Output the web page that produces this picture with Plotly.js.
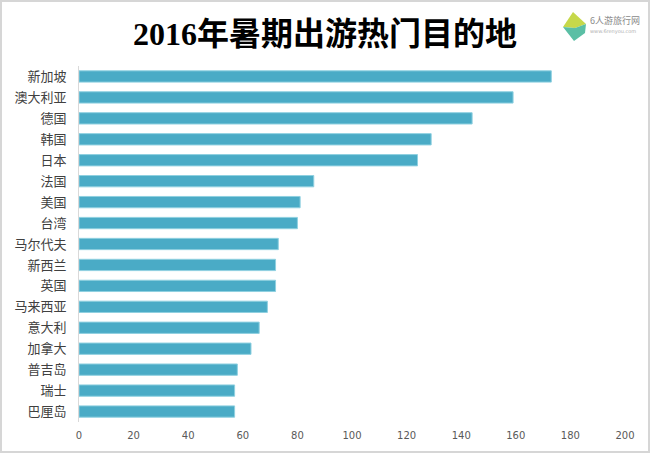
<!DOCTYPE html>
<html>
<head>
<meta charset="utf-8">
<script src="https://cdn.plot.ly/plotly-3.0.1.min.js"></script>
<style>
  html, body { margin: 0; padding: 0; background: #ffffff; }
  #chart { width: 650px; height: 453px; }
  #frame {
    position: absolute; left: 0; top: 0;
    width: 646px; height: 449px;
    border: 2px solid #d6d6d6;
    pointer-events: none;
  }
</style>
</head>
<body>
<div id="chart"></div>
<div id="frame"></div>
<script>
// Destinations, top to bottom as drawn
const destinations = ['新加坡', '澳大利亚', '德国', '韩国', '日本', '法国', '美国', '台湾',
    '马尔代夫', '新西兰', '英国', '马来西亚', '意大利', '加拿大', '普吉岛', '瑞士', '巴厘岛'];
const popularity = [173, 159, 144, 129, 124, 86, 81, 80, 73, 72, 72, 69, 66, 63, 58, 57, 57];
const xTicks = [0, 20, 40, 60, 80, 100, 120, 140, 160, 180, 200];

const chartTitle = '2016年暑期出游热门目的地';
const brandName = '6人游旅行网';
const brandSite = 'www.6renyou.com';

// plot area in pixels, used to place the logo in paper units
const plotBox = { left: 79, right: 625, top: 66, bottom: 422 };
const px = x => (x - plotBox.left) / (plotBox.right - plotBox.left);
const py = y => (plotBox.bottom - y) / (plotBox.bottom - plotBox.top);
const pathOf = pts => 'M ' + pts.map(p => px(p[0]) + ',' + py(p[1])).join(' L ') + ' Z';

const trace = {
    type: 'bar',
    orientation: 'h',
    y: destinations,
    x: popularity,
    marker: {
        color: '#4aabc6',
        line: { color: '#8fd0e0', width: 1 }
    },
    hoverinfo: 'y+x'
};

const layout = {
    width: 650,
    height: 453,
    margin: { l: plotBox.left, r: 650 - plotBox.right, t: plotBox.top, b: 453 - plotBox.bottom },
    paper_bgcolor: '#ffffff',
    plot_bgcolor: '#ffffff',
    showlegend: false,
    bargap: 0.46,
    title: {
        text: '<b>' + chartTitle + '</b>',
        x: 0.5,
        xanchor: 'center',
        y: 1 - 34 / 453,
        yanchor: 'middle',
        font: { family: "'Liberation Serif', 'Noto Sans CJK SC', serif", size: 32, color: '#000000' }
    },
    xaxis: {
        range: [0, 200],
        tickvals: xTicks,
        showgrid: false,
        zeroline: false,
        showline: false,
        ticks: '',
        ticklabelstandoff: 6,
        tickfont: { family: "'DejaVu Sans', sans-serif", size: 10, color: '#595959' },
        fixedrange: true
    },
    yaxis: {
        autorange: 'reversed',
        showgrid: false,
        zeroline: false,
        showline: true,
        linecolor: '#d9d9d9',
        linewidth: 1,
        ticks: '',
        ticklabelstandoff: 9,
        tickfont: { family: "'Noto Sans CJK SC', sans-serif", size: 13, color: '#404040' },
        fixedrange: true
    },
    shapes: [
        { type: 'path', xref: 'paper', yref: 'paper', layer: 'above',
          path: pathOf([[573, 12], [586, 24], [575, 28], [563, 27]]),
          fillcolor: '#c6d84a', line: { width: 0 } },
        { type: 'path', xref: 'paper', yref: 'paper', layer: 'above',
          path: pathOf([[563, 27], [575, 28], [586, 24], [585, 33], [574, 41]]),
          fillcolor: '#5bbfa5', line: { width: 0 } }
    ],
    annotations: [
        { xref: 'paper', yref: 'paper', x: px(588), y: py(20), xanchor: 'left', yanchor: 'middle',
          text: brandName, showarrow: false,
          font: { family: "'Noto Sans CJK SC', sans-serif", size: 9, color: '#8a8a8a' } },
        { xref: 'paper', yref: 'paper', x: px(588), y: py(31), xanchor: 'left', yanchor: 'middle',
          text: brandSite, showarrow: false,
          font: { family: "'DejaVu Sans', sans-serif", size: 5, color: '#b0b0b0' } }
    ]
};

Plotly.newPlot('chart', [trace], layout, { displayModeBar: false, responsive: false });
</script>
</body>
</html>
